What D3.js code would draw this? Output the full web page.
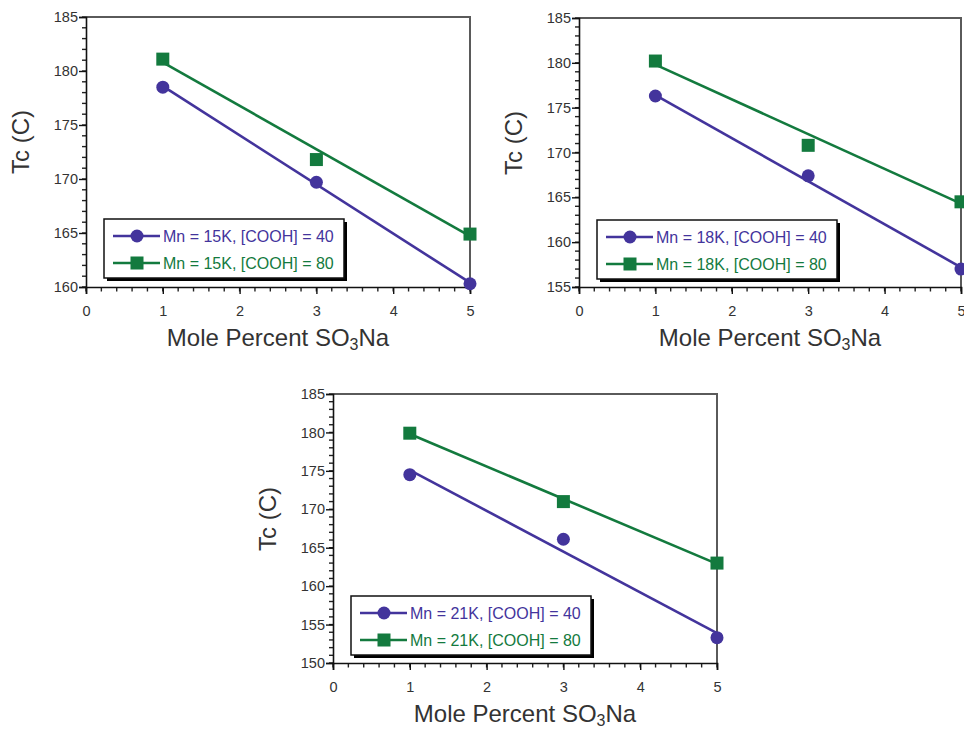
<!DOCTYPE html>
<html>
<head>
<meta charset="utf-8">
<script src="https://cdn.jsdelivr.net/npm/d3@7"></script>
<style>
  body { margin: 0; background: #fff; }
  svg { display: block; font-family: "Liberation Sans", Arial, sans-serif; }
</style>
</head>
<body>
<div class="chart"></div>
<script>
// mole percent SO3Na (x) for the measured points
var molePct = [1, 3, 5];
var xTicks = [0, 1, 2, 3, 4, 5];

// Tc values
var tc15_40 = [178.5, 169.7, 160.3],
    tc15_80 = [181.1, 171.8, 164.9],
    tc18_40 = [176.3, 167.4, 157.0],
    tc18_80 = [180.2, 170.8, 164.5],
    tc21_40 = [174.5, 166.1, 153.3],
    tc21_80 = [179.9, 171.0, 163.0];

// straight fit lines drawn through each series (ends at x = 1 and x = 5)
var fitX = [1, 5];
var fit15_40 = [178.6, 160.4],
    fit15_80 = [180.8, 164.7],
    fit18_40 = [176.4, 157.2],
    fit18_80 = [179.8, 164.3],
    fit21_40 = [175.1, 153.9],
    fit21_80 = [179.8, 162.9];

var yTicks15 = [160, 165, 170, 175, 180, 185],
    yTicks18 = [155, 160, 165, 170, 175, 180, 185],
    yTicks21 = [150, 155, 160, 165, 170, 175, 180, 185];

var mn = ["15K", "18K", "21K"];

var purple = "#43349c",
    green = "#137a3e";

var panels = [
  {left: 86,  top: 17,  w: 384, h: 270, ticks: yTicks15, mn: mn[0], s40: tc15_40, s80: tc15_80, f40: fit15_40, f80: fit15_80},
  {left: 579, top: 18,  w: 382, h: 269, ticks: yTicks18, mn: mn[1], s40: tc18_40, s80: tc18_80, f40: fit18_40, f80: fit18_80},
  {left: 333, top: 394, w: 384, h: 269, ticks: yTicks21, mn: mn[2], s40: tc21_40, s80: tc21_80, f40: fit21_40, f80: fit21_80}
];

var svg = d3.select(".chart").append("svg")
    .attr("width", 964)
    .attr("height", 729);

svg.append("rect").attr("width", 964).attr("height", 729).attr("fill", "#fff");

function drawPanel(p) {
  var g = svg.append("g")
    .attr("transform", `translate(${p.left}, ${p.top})`);

  var x = d3.scaleLinear().domain([0, 5]).range([0, p.w]);
  var y = d3.scaleLinear().domain(d3.extent(p.ticks)).range([p.h, 0]);

  // frame top / right
  g.append("path")
    .attr("d", `M0,0H${p.w}V${p.h}`)
    .attr("fill", "none")
    .attr("stroke", "#5a5a5a")
    .attr("stroke-width", 2);

  // minor ticks
  var yMinor = d3.range(y.domain()[0], y.domain()[1] + 0.001, 1);
  g.selectAll(".ymin").data(yMinor).enter().append("line")
    .attr("x1", -4).attr("x2", 0)
    .attr("y1", d => y(d)).attr("y2", d => y(d))
    .attr("stroke", "#222").attr("stroke-width", 1.4);
  var xMinor = d3.range(0, 5.001, 0.2);
  g.selectAll(".xmin").data(xMinor).enter().append("line")
    .attr("x1", d => x(d)).attr("x2", d => x(d))
    .attr("y1", p.h).attr("y2", p.h + 4.5)
    .attr("stroke", "#222").attr("stroke-width", 1.4);

  var yAxis = g.append("g")
    .call(d3.axisLeft(y).tickValues(p.ticks).tickSize(7).tickPadding(1).tickFormat(d3.format("d")));
  var xAxis = g.append("g")
    .attr("transform", `translate(0, ${p.h})`)
    .call(d3.axisBottom(x).tickValues(xTicks).tickSize(7).tickPadding(12).tickFormat(d3.format("d")));

  [yAxis, xAxis].forEach(ax => {
    ax.select(".domain").attr("stroke", "#111").attr("stroke-width", 1.6);
    ax.selectAll(".tick line").attr("stroke", "#111").attr("stroke-width", 1.4);
    ax.selectAll("text")
      .attr("font-family", "Liberation Sans, Arial, sans-serif")
      .attr("font-size", 14.5)
      .attr("fill", "#333");
  });

  // series: fit lines then markers
  var line = d3.line().x((d, i) => x(fitX[i])).y(d => y(d));
  g.append("path").datum(p.f40).attr("d", line)
    .attr("fill", "none").attr("stroke", purple).attr("stroke-width", 2.6);
  g.append("path").datum(p.f80).attr("d", line)
    .attr("fill", "none").attr("stroke", green).attr("stroke-width", 2.6);

  g.selectAll(".c40").data(p.s40).enter().append("circle")
    .attr("cx", (d, i) => x(molePct[i]))
    .attr("cy", d => y(d))
    .attr("r", 6.5)
    .attr("fill", purple);
  g.selectAll(".s80").data(p.s80).enter().append("rect")
    .attr("x", (d, i) => x(molePct[i]) - 6.5)
    .attr("y", d => y(d) - 6.5)
    .attr("width", 13).attr("height", 13)
    .attr("fill", green);

  // legend box with shadow
  var lg = g.append("g").attr("transform", "translate(18, 202)");
  lg.append("rect").attr("x", 3).attr("y", 3).attr("width", 240).attr("height", 59).attr("fill", "#000");
  lg.append("rect").attr("width", 240).attr("height", 59)
    .attr("fill", "#fff").attr("stroke", "#111").attr("stroke-width", 1.5);

  var entries = [
    {label: `Mn = ${p.mn}, [COOH] = 40`, color: purple, shape: "circle"},
    {label: `Mn = ${p.mn}, [COOH] = 80`, color: green, shape: "square"}
  ];
  var rows = lg.selectAll(".row").data(entries).enter().append("g")
    .attr("transform", (d, i) => `translate(0, ${17 + i * 27})`);
  rows.append("line")
    .attr("x1", 9).attr("x2", 56)
    .attr("stroke", d => d.color).attr("stroke-width", 2.4);
  rows.filter(d => d.shape === "circle").append("circle")
    .attr("cx", 33).attr("r", 6.5).attr("fill", d => d.color);
  rows.filter(d => d.shape === "square").append("rect")
    .attr("x", 26.5).attr("y", -6.5).attr("width", 13).attr("height", 13).attr("fill", d => d.color);
  rows.append("text")
    .attr("x", 59).attr("dy", "0.36em")
    .attr("font-size", 16)
    .attr("fill", d => d.color)
    .text(d => d.label);

  // axis titles
  g.append("text")
    .attr("transform", `translate(-66, 125) rotate(-90)`)
    .attr("text-anchor", "middle")
    .attr("dominant-baseline", "central")
    .attr("font-size", 24)
    .attr("fill", "#333")
    .text("Tc (C)");

  var xt = g.append("text")
    .attr("x", p.w / 2).attr("y", p.h + 59)
    .attr("text-anchor", "middle")
    .attr("font-size", 24)
    .attr("fill", "#333");
  xt.append("tspan").text("Mole Percent SO");
  xt.append("tspan").attr("font-size", 16).attr("dy", 4).text("3");
  xt.append("tspan").attr("dy", -4).text("Na");
}

panels.forEach(drawPanel);
</script>
</body>
</html>
